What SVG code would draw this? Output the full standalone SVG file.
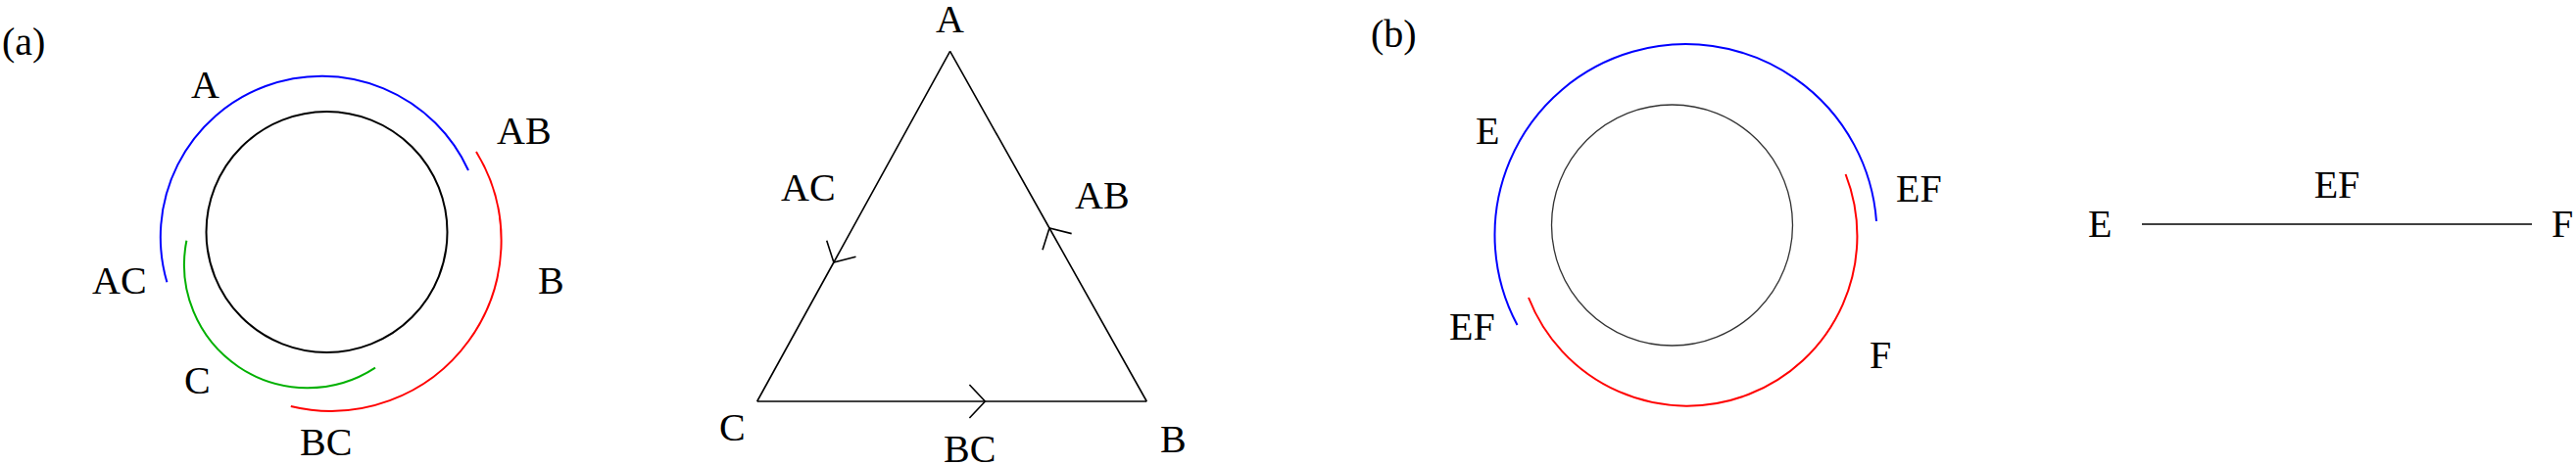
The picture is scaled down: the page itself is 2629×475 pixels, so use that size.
<svg xmlns="http://www.w3.org/2000/svg" width="2629" height="475" viewBox="0 0 2629 475">
<style>
text{font-family:"Liberation Serif","Times New Roman",serif;font-size:40px;fill:#000}
.arc{fill:none;stroke-width:2}
.blue{stroke:#0000ff}
.red{stroke:#ff0000}
.green{stroke:#00b000}
.edge{fill:none;stroke:#000;stroke-width:1.6;marker-mid:url(#chev)}
</style>
<defs>
<marker id="chev" markerUnits="userSpaceOnUse" viewBox="-20 -20 40 40" markerWidth="40" markerHeight="40" refX="0" refY="0" orient="auto" overflow="visible">
<path d="M-16,-17 L0,0 L-16,17" fill="none" stroke="#000" stroke-width="1.6"/>
</marker>
</defs>
<rect width="2629" height="475" fill="#fff"/>

<g id="panel-a-label"><text x="2" y="56">(a)</text></g>

<g id="panel-a-circle">
<circle cx="333.5" cy="237" r="123" fill="none" stroke="#000" stroke-width="2"/>
<path class="arc blue" d="M170.4,288.3 A164.5,164.5 0 0 1 478,174"/>
<path class="arc red" d="M486,155 A174,174 0 0 1 296.8,415"/>
<path class="arc green" d="M190.4,245.7 A126,126 0 0 0 383,375.7"/>
<text x="195" y="100">A</text>
<text x="507" y="147">AB</text>
<text x="94" y="300">AC</text>
<text x="549" y="300">B</text>
<text x="188" y="402">C</text>
<text x="306" y="465">BC</text>
</g>

<g id="connectors">
<path id="edge-CB" class="edge" d="M772.7,410 L1005.4,410 L1170.3,410"/>
<path id="edge-BA" class="edge" d="M1170.3,410 L1071,233 L969.6,52.3"/>
<path id="edge-AC" class="edge" d="M969.6,52.3 L850.9,268 L772.7,410"/>
</g>
<g id="node-A"><text x="955" y="33">A</text></g>
<g id="node-B"><text x="1184" y="462">B</text></g>
<g id="node-C"><text x="734" y="450">C</text></g>
<g id="label-AC"><text x="797" y="205">AC</text></g>
<g id="label-AB"><text x="1097" y="213">AB</text></g>
<g id="label-BC"><text x="963" y="472">BC</text></g>

<g id="panel-b-label"><text x="1399" y="48">(b)</text></g>

<g id="panel-b-circle">
<circle cx="1706.5" cy="230" r="123" fill="none" stroke="#333" stroke-width="1.3"/>
<path class="arc blue" d="M1548.5,332 A195,195 0 1 1 1915,226"/>
<path class="arc red" d="M1883.6,178 A173,173 0 1 1 1560,304"/>
<text x="1506" y="147">E</text>
<text x="1935" y="206">EF</text>
<text x="1479" y="347">EF</text>
<text x="1908" y="376">F</text>
</g>

<g id="node-E"><text x="2131" y="242">E</text></g>
<g id="node-F"><text x="2604" y="242">F</text></g>
<g id="edge-EF-group">
<line id="edge-EF" x1="2186" y1="229" x2="2584" y2="229" stroke="#000" stroke-width="1.6"/>
<text x="2385" y="202" text-anchor="middle">EF</text>
</g>
</svg>
